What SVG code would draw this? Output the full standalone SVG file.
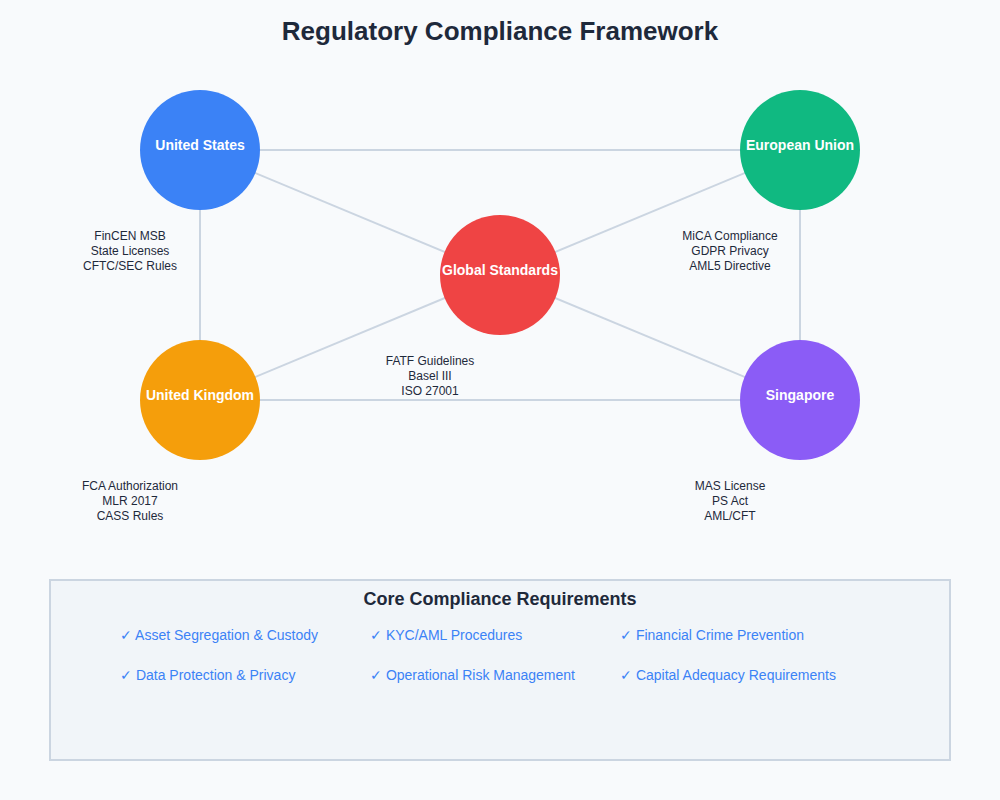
<svg xmlns="http://www.w3.org/2000/svg" width="1000" height="800" viewBox="0 0 1000 800">
  <style>
    .title{font-family:"Liberation Sans",Arial,sans-serif;font-size:26px;font-weight:bold;fill:#1e293b;text-anchor:middle}
    .node-label{font-family:"Liberation Sans",Arial,sans-serif;font-size:14px;font-weight:bold;fill:#ffffff;text-anchor:middle}
    .desc{font-family:"Liberation Sans",Arial,sans-serif;font-size:12px;fill:#1e293b;text-anchor:middle}
    .box-title{font-family:"Liberation Sans",Arial,sans-serif;font-size:18px;font-weight:bold;fill:#1e293b;text-anchor:middle}
    .item{font-family:"Liberation Sans",Arial,sans-serif;font-size:14px;fill:#3b82f6}
    .conn{stroke:#cbd5e1;stroke-width:2;fill:none}
  </style>
  <rect x="0" y="0" width="1000" height="800" fill="#f8fafc"/>
  <text class="title" x="500" y="40">Regulatory Compliance Framework</text>

  <g id="connectors">
    <line class="conn" x1="200" y1="150" x2="800" y2="150"/>
    <line class="conn" x1="200" y1="400" x2="800" y2="400"/>
    <line class="conn" x1="200" y1="150" x2="200" y2="400"/>
    <line class="conn" x1="800" y1="150" x2="800" y2="400"/>
    <line class="conn" x1="200" y1="150" x2="500" y2="275"/>
    <line class="conn" x1="800" y1="150" x2="500" y2="275"/>
    <line class="conn" x1="200" y1="400" x2="500" y2="275"/>
    <line class="conn" x1="800" y1="400" x2="500" y2="275"/>
  </g>

  <g id="node-us">
    <circle cx="200" cy="150" r="60" fill="#3b82f6"/>
    <text class="node-label" x="200" y="150">United States</text>
    <text class="desc" x="130" y="240">FinCEN MSB</text>
    <text class="desc" x="130" y="255">State Licenses</text>
    <text class="desc" x="130" y="270">CFTC/SEC Rules</text>
  </g>
  <g id="node-eu">
    <circle cx="800" cy="150" r="60" fill="#10b981"/>
    <text class="node-label" x="800" y="150">European Union</text>
    <text class="desc" x="730" y="240">MiCA Compliance</text>
    <text class="desc" x="730" y="255">GDPR Privacy</text>
    <text class="desc" x="730" y="270">AML5 Directive</text>
  </g>
  <g id="node-global">
    <circle cx="500" cy="275" r="60" fill="#ef4444"/>
    <text class="node-label" x="500" y="275">Global Standards</text>
    <text class="desc" x="430" y="365">FATF Guidelines</text>
    <text class="desc" x="430" y="380">Basel III</text>
    <text class="desc" x="430" y="395">ISO 27001</text>
  </g>
  <g id="node-uk">
    <circle cx="200" cy="400" r="60" fill="#f59e0b"/>
    <text class="node-label" x="200" y="400">United Kingdom</text>
    <text class="desc" x="130" y="490">FCA Authorization</text>
    <text class="desc" x="130" y="505">MLR 2017</text>
    <text class="desc" x="130" y="520">CASS Rules</text>
  </g>
  <g id="node-sg">
    <circle cx="800" cy="400" r="60" fill="#8b5cf6"/>
    <text class="node-label" x="800" y="400">Singapore</text>
    <text class="desc" x="730" y="490">MAS License</text>
    <text class="desc" x="730" y="505">PS Act</text>
    <text class="desc" x="730" y="520">AML/CFT</text>
  </g>

  <g id="requirements">
    <rect x="50" y="580" width="900" height="180" fill="#f1f5f9" stroke="#cbd5e1" stroke-width="2"/>
    <text class="box-title" x="500" y="605">Core Compliance Requirements</text>
    <text class="item" x="120" y="640">✓ Asset Segregation &amp; Custody</text>
    <text class="item" x="370" y="640">✓ KYC/AML Procedures</text>
    <text class="item" x="620" y="640">✓ Financial Crime Prevention</text>
    <text class="item" x="120" y="680">✓ Data Protection &amp; Privacy</text>
    <text class="item" x="370" y="680">✓ Operational Risk Management</text>
    <text class="item" x="620" y="680">✓ Capital Adequacy Requirements</text>
  </g>
</svg>
